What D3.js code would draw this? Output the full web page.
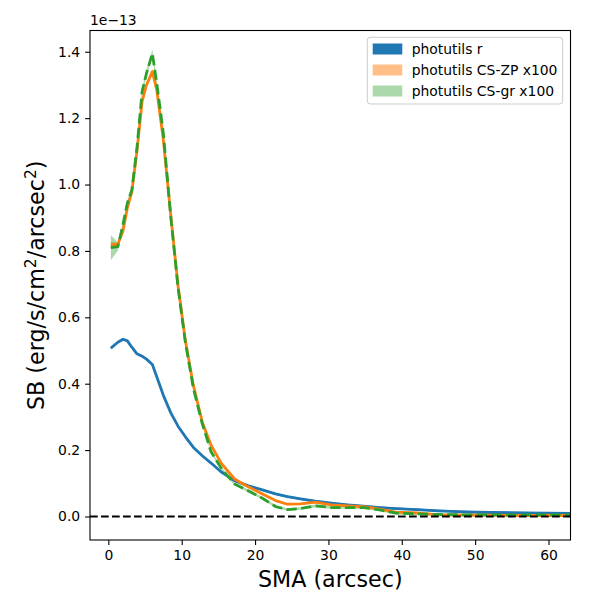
<!DOCTYPE html>
<html>
<head>
<meta charset="utf-8">
<script src="https://cdn.jsdelivr.net/npm/d3@7"></script>
<style>
  body { margin: 0; background: #fff; }
  svg { display: block; font-family: "DejaVu Sans", sans-serif; }
</style>
</head>
<body>
<svg id="chart" width="600" height="600"></svg>
<script>
// SMA grid (arcsec), shared by the three profiles
const sma = [0.34, 1.3, 2.0, 2.6, 3.2, 3.9, 4.6, 5.2, 6.0, 6.6, 7.5, 8.5, 9.5, 10.5, 11.6, 12.8,
  14.0, 15.4, 17.2, 19.0, 21.0, 22.8, 24.4, 26.2, 28.2, 30.4, 32.6, 34.8, 37.0, 39.2, 42.0,
  45.0, 48.5, 52.0, 56.0, 60.0, 64.0];

// surface brightness in units of 1e-13
const sbR = [0.507, 0.525, 0.534, 0.529, 0.51, 0.49, 0.483, 0.474, 0.458, 0.421, 0.365, 0.313, 0.272,
  0.24, 0.208, 0.183, 0.161, 0.134, 0.108, 0.093, 0.08, 0.068, 0.06, 0.053, 0.046, 0.04, 0.035,
  0.031, 0.027, 0.024, 0.021, 0.017, 0.014, 0.012, 0.011, 0.010, 0.009];
const sbZP = [0.818, 0.82, 0.86, 0.93, 0.978, 1.10, 1.25, 1.30, 1.34, 1.285, 1.134, 0.91, 0.695,
  0.53, 0.394, 0.285, 0.215, 0.16, 0.113, 0.09, 0.068, 0.048, 0.037, 0.038, 0.043, 0.035, 0.032,
  0.030, 0.022, 0.013, 0.011, 0.005, 0.004, 0.004, 0.003, 0.003, 0.003];
const sbGR = [0.81, 0.813, 0.88, 0.945, 0.983, 1.11, 1.28, 1.335, 1.395, 1.305, 1.154, 0.905, 0.69,
  0.525, 0.385, 0.28, 0.195, 0.145, 0.098, 0.078, 0.055, 0.03, 0.021, 0.024, 0.032, 0.027, 0.027,
  0.027, 0.02, 0.01, 0.008, 0.006, 0.005, 0.005, 0.005, 0.005, 0.005];

// error half-widths (same units)
const errR = sma.map(() => 0.003);
const errZP = [0.008, 0.006, 0.005, 0.005, 0.006, 0.006, 0.007, 0.007, 0.008, 0.007, 0.006, 0.005,
  0.005, 0.004, 0.004, 0.003, 0.003, 0.003, 0.003, 0.003, 0.003, 0.003, 0.003, 0.003, 0.003,
  0.003, 0.003, 0.003, 0.003, 0.003, 0.003, 0.003, 0.003, 0.003, 0.003, 0.003, 0.003];
const errGR = [0.038, 0.012, 0.008, 0.008, 0.008, 0.009, 0.01, 0.01, 0.012, 0.01, 0.009, 0.008,
  0.007, 0.006, 0.005, 0.005, 0.004, 0.004, 0.004, 0.004, 0.004, 0.004, 0.004, 0.004, 0.004,
  0.004, 0.004, 0.004, 0.004, 0.004, 0.004, 0.004, 0.004, 0.004, 0.004, 0.004, 0.004];

const xTicks = [0, 10, 20, 30, 40, 50, 60];
const yTicks = [0, 0.2, 0.4, 0.6, 0.8, 1.0, 1.2, 1.4];
const legendLabels = ['photutils r', 'photutils CS-ZP x100', 'photutils CS-gr x100'];

const series = [
  { y: sbR, e: errR, color: '#1f77b4', bandAlpha: 1.0, dash: null },
  { y: sbZP, e: errZP, color: '#ff7f0e', bandAlpha: 0.5, dash: null },
  { y: sbGR, e: errGR, color: '#2ca02c', bandAlpha: 0.4, dash: '10.3,4.4' },
];

const svg = d3.select('#chart');
const L = 90, R = 570.5, T = 30.5, B = 540;

const x = d3.scaleLinear().domain([-2.5, 63]).range([L, R]);
const y = d3.scaleLinear().domain([-0.0708, 1.464]).range([B, T]);

svg.append('defs').append('clipPath').attr('id', 'clip')
  .append('rect').attr('x', L).attr('y', T).attr('width', R - L).attr('height', B - T);

const plot = svg.append('g').attr('clip-path', 'url(#clip)');

const area = d3.area()
  .x((d, i) => x(sma[i]))
  .y0(d => y(d[0]))
  .y1(d => y(d[1]));
const line = d3.line()
  .x((d, i) => x(sma[i]))
  .y(d => y(d));

series.forEach(s => {
  plot.append('path')
    .datum(s.y.map((v, i) => [v - s.e[i], v + s.e[i]]))
    .attr('d', area)
    .attr('fill', s.color)
    .attr('fill-opacity', s.bandAlpha === 1.0 ? 0.9 : s.bandAlpha);
});

series.forEach(s => {
  plot.append('path')
    .datum(s.y)
    .attr('d', line)
    .attr('fill', 'none')
    .attr('stroke', s.color)
    .attr('stroke-width', 2.8)
    .attr('stroke-linejoin', 'round')
    .attr('stroke-dasharray', s.dash);
});

// zero line
plot.append('line')
  .attr('x1', L).attr('x2', R)
  .attr('y1', y(0)).attr('y2', y(0))
  .attr('stroke', '#000')
  .attr('stroke-width', 2.08)
  .attr('stroke-dasharray', '7.7,3.3');

// axes
const xAxis = svg.append('g')
  .attr('transform', `translate(0,${B})`)
  .call(d3.axisBottom(x).tickValues(xTicks).tickSize(4.9).tickPadding(4.9).tickFormat(d3.format('d')));
const yAxis = svg.append('g')
  .attr('transform', `translate(${L},0)`)
  .call(d3.axisLeft(y).tickValues(yTicks).tickSize(4.9).tickPadding(4.9).tickFormat(d3.format('.1f')));

[xAxis, yAxis].forEach(a => {
  a.select('.domain').remove();
  a.selectAll('line').attr('stroke', '#000').attr('stroke-width', 1.1);
  a.selectAll('text').attr('fill', '#000').style('font-size', '13.9px')
    .style('font-family', '"DejaVu Sans", sans-serif');
});

svg.append('rect')
  .attr('x', L).attr('y', T).attr('width', R - L).attr('height', B - T)
  .attr('fill', 'none').attr('stroke', '#000').attr('stroke-width', 1.1);

// offset text
svg.append('text')
  .attr('x', L).attr('y', 25)
  .style('font-size', '13.9px')
  .text('1e\u221213');

// axis labels
svg.append('text')
  .attr('x', (L + R) / 2).attr('y', 587)
  .attr('text-anchor', 'middle')
  .style('font-size', '22.2px')
  .text('SMA (arcsec)');

const yl = svg.append('text')
  .attr('transform', `translate(44,${(T + B) / 2}) rotate(-90)`)
  .attr('text-anchor', 'middle')
  .style('font-size', '22.2px');
yl.append('tspan').text('SB (erg/s/cm');
yl.append('tspan').attr('dy', -8).style('font-size', '15.5px').text('2');
yl.append('tspan').attr('dy', 8).text('/arcsec');
yl.append('tspan').attr('dy', -8).style('font-size', '15.5px').text('2');
yl.append('tspan').attr('dy', 8).text(')');

// legend
const lg = svg.append('g');
lg.append('rect')
  .attr('x', 367.3).attr('y', 37.3).attr('width', 195.4).attr('height', 66.7)
  .attr('rx', 3).attr('fill', '#fff').attr('fill-opacity', 0.8)
  .attr('stroke', '#cccccc').attr('stroke-width', 1);

legendLabels.forEach((lab, i) => {
  const cy = 49 + i * 21;
  const s = series[i];
  lg.append('rect')
    .attr('x', 372.7).attr('y', cy - 5.5).attr('width', 29.6).attr('height', 11)
    .attr('fill', s.color).attr('fill-opacity', s.bandAlpha);
  lg.append('text')
    .attr('x', 411.7).attr('y', cy + 5)
    .style('font-size', '13.9px')
    .text(lab);
});
</script>
</body>
</html>
